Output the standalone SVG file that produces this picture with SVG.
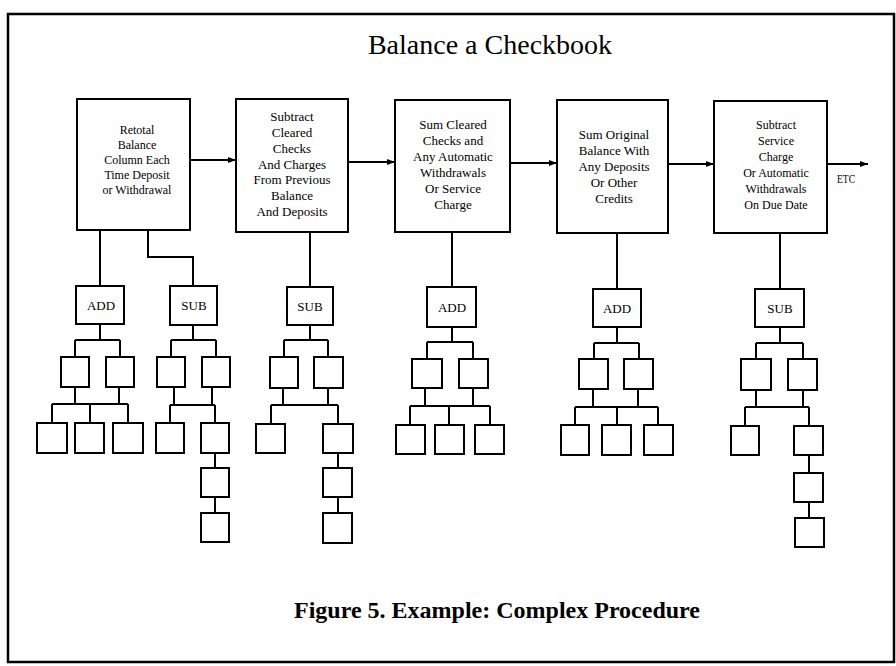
<svg xmlns="http://www.w3.org/2000/svg" width="896" height="666" viewBox="0 0 896 666">
<defs>
<marker id="ah" markerUnits="userSpaceOnUse" markerWidth="9" markerHeight="7" refX="8" refY="3" orient="auto">
<path d="M0,0 L8,3 L0,6 Z" fill="#000"/>
</marker>
</defs>
<style>
.frame{fill:none;stroke:#000;stroke-width:2.5}
.box{fill:#fff;stroke:#000;stroke-width:2}
.sb{fill:#fff;stroke:#000;stroke-width:2}
.conn path{fill:none;stroke:#000;stroke-width:2}
.arr{fill:none;stroke:#000;stroke-width:2;marker-end:url(#ah)}
text{font-family:"Liberation Serif","Times New Roman",serif;fill:#000;text-anchor:middle}
.t1{font-size:12px}
.t2{font-size:13px}
.lbl{font-size:13px}
.title{font-size:28px}
.cap{font-size:24px;font-weight:bold}
</style>
<rect width="896" height="666" fill="#fff"/>
<rect class="frame" x="8" y="14" width="886" height="648"/>
<text class="title" x="490" y="54">Balance a Checkbook</text>

<g class="conn" id="connectors">
<path class="arr" d="M190 160 H236"/>
<path class="arr" d="M348 162 H395"/>
<path class="arr" d="M510 163 H557"/>
<path class="arr" d="M668 164 H714"/>
<path class="arr" d="M827 164 H868"/>
<!-- tree 1 ADD -->
<path d="M100 230 V286"/>
<path d="M100 324 V340 M75 340 H120 M75 340 V357 M120 340 V357"/>
<path d="M75 387 V404 M119 387 V404 M52 404 H128 M52 404 V423 M90 404 V423 M128 404 V423"/>
<!-- tree 2 SUB -->
<path d="M148 230 V257 H193 V286"/>
<path d="M193 325 V340 M171 340 H216 M171 340 V357 M216 340 V357"/>
<path d="M174 387 V405 M212 387 V405 M170 405 H215 M170 405 V423 M215 405 V423"/>
<path d="M215 453 V468 M215 497 V513"/>
<!-- tree 3 SUB -->
<path d="M310 232 V287"/>
<path d="M310 325 V340 M284 340 H328 M284 340 V357 M328 340 V357"/>
<path d="M283 388 V405 M328 388 V405 M271 405 H338 M271 405 V424 M338 405 V424"/>
<path d="M338 453 V468 M338 497 V513"/>
<!-- tree 4 ADD -->
<path d="M452 232 V287"/>
<path d="M452 327 V342 M427 342 H473 M427 342 V359 M473 342 V359"/>
<path d="M425 388 V406 M473 388 V406 M410 406 H490 M410 406 V425 M449 406 V425 M490 406 V425"/>
<!-- tree 5 ADD -->
<path d="M617 233 V289"/>
<path d="M617 327 V343 M594 343 H639 M594 343 V359 M639 343 V359"/>
<path d="M593 389 V407 M638 389 V407 M575 407 H658 M575 407 V425 M617 407 V425 M658 407 V425"/>
<!-- tree 6 SUB -->
<path d="M780 233 V289"/>
<path d="M780 327 V343 M756 343 H803 M756 343 V359 M803 343 V359"/>
<path d="M756 390 V407 M803 390 V407 M745 407 H809 M745 407 V426 M809 407 V426"/>
<path d="M809 455 V473 M809 502 V518"/>
</g>

<g id="box1"><rect class="box" x="77" y="99" width="113" height="131"/>
<text class="t1" x="137" y="134">Retotal</text>
<text class="t1" x="137" y="149">Balance</text>
<text class="t1" x="137" y="164">Column Each</text>
<text class="t1" x="137" y="179">Time Deposit</text>
<text class="t1" x="137" y="194">or Withdrawal</text></g>

<g id="box2"><rect class="box" x="236" y="99" width="112" height="133"/>
<text class="t2" x="292" y="121">Subtract</text>
<text class="t2" x="292" y="137">Cleared</text>
<text class="t2" x="292" y="153">Checks</text>
<text class="t2" x="292" y="168.5">And Charges</text>
<text class="t2" x="292" y="184">From Previous</text>
<text class="t2" x="292" y="200">Balance</text>
<text class="t2" x="292" y="216">And Deposits</text></g>

<g id="box3"><rect class="box" x="395" y="100" width="115" height="132"/>
<text class="t2" x="453" y="129">Sum Cleared</text>
<text class="t2" x="453" y="145">Checks and</text>
<text class="t2" x="453" y="161">Any Automatic</text>
<text class="t2" x="453" y="177">Withdrawals</text>
<text class="t2" x="453" y="193">Or Service</text>
<text class="t2" x="453" y="209">Charge</text></g>

<g id="box4"><rect class="box" x="557" y="100" width="111" height="133"/>
<text class="t2" x="614" y="139">Sum Original</text>
<text class="t2" x="614" y="155">Balance With</text>
<text class="t2" x="614" y="171">Any Deposits</text>
<text class="t2" x="614" y="187">Or Other</text>
<text class="t2" x="614" y="203">Credits</text></g>

<g id="box5"><rect class="box" x="714" y="101" width="113" height="132"/>
<text class="t1" x="776" y="129">Subtract</text>
<text class="t1" x="776" y="145">Service</text>
<text class="t1" x="776" y="161">Charge</text>
<text class="t1" x="776" y="177">Or Automatic</text>
<text class="t1" x="776" y="193">Withdrawals</text>
<text class="t1" x="776" y="209">On Due Date</text></g>

<text class="t1" x="846" y="183" textLength="18" lengthAdjust="spacingAndGlyphs">ETC</text>

<!-- tree 1 -->
<g id="add1"><rect class="sb" x="76" y="286" width="48" height="38"/><text class="lbl" x="101" y="310">ADD</text></g>
<g id="n1a"><rect class="sb" x="61" y="357" width="28" height="30"/></g>
<g id="n1b"><rect class="sb" x="106" y="357" width="28" height="30"/></g>
<g id="n1c"><rect class="sb" x="37" y="423" width="30" height="30"/></g>
<g id="n1d"><rect class="sb" x="75" y="423" width="29" height="30"/></g>
<g id="n1e"><rect class="sb" x="113" y="423" width="30" height="30"/></g>

<!-- tree 2 -->
<g id="sub1"><rect class="sb" x="170" y="286" width="47" height="39"/><text class="lbl" x="194" y="310">SUB</text></g>
<g id="n2a"><rect class="sb" x="157" y="357" width="28" height="30"/></g>
<g id="n2b"><rect class="sb" x="202" y="357" width="28" height="30"/></g>
<g id="n2c"><rect class="sb" x="156" y="423" width="28" height="30"/></g>
<g id="n2d"><rect class="sb" x="201" y="423" width="28" height="30"/></g>
<g id="n2e"><rect class="sb" x="201" y="468" width="28" height="29"/></g>
<g id="n2f"><rect class="sb" x="201" y="513" width="28" height="29"/></g>

<!-- tree 3 -->
<g id="sub2"><rect class="sb" x="287" y="287" width="46" height="38"/><text class="lbl" x="310" y="311">SUB</text></g>
<g id="n3a"><rect class="sb" x="270" y="357" width="28" height="31"/></g>
<g id="n3b"><rect class="sb" x="314" y="357" width="29" height="31"/></g>
<g id="n3c"><rect class="sb" x="256" y="424" width="29" height="29"/></g>
<g id="n3d"><rect class="sb" x="323" y="424" width="30" height="29"/></g>
<g id="n3e"><rect class="sb" x="323" y="468" width="29" height="29"/></g>
<g id="n3f"><rect class="sb" x="323" y="513" width="29" height="30"/></g>

<!-- tree 4 -->
<g id="add3"><rect class="sb" x="427" y="287" width="49" height="40"/><text class="lbl" x="452" y="312">ADD</text></g>
<g id="n4a"><rect class="sb" x="412" y="359" width="30" height="29"/></g>
<g id="n4b"><rect class="sb" x="459" y="359" width="29" height="29"/></g>
<g id="n4c"><rect class="sb" x="396" y="425" width="29" height="29"/></g>
<g id="n4d"><rect class="sb" x="435" y="425" width="29" height="29"/></g>
<g id="n4e"><rect class="sb" x="475" y="425" width="29" height="29"/></g>

<!-- tree 5 -->
<g id="add4"><rect class="sb" x="593" y="289" width="48" height="38"/><text class="lbl" x="617" y="313">ADD</text></g>
<g id="n5a"><rect class="sb" x="579" y="359" width="29" height="30"/></g>
<g id="n5b"><rect class="sb" x="624" y="359" width="29" height="30"/></g>
<g id="n5c"><rect class="sb" x="561" y="425" width="28" height="30"/></g>
<g id="n5d"><rect class="sb" x="602" y="425" width="29" height="30"/></g>
<g id="n5e"><rect class="sb" x="644" y="425" width="29" height="30"/></g>

<!-- tree 6 -->
<g id="sub5"><rect class="sb" x="755" y="289" width="49" height="38"/><text class="lbl" x="780" y="313">SUB</text></g>
<g id="n6a"><rect class="sb" x="741" y="359" width="30" height="31"/></g>
<g id="n6b"><rect class="sb" x="788" y="359" width="29" height="31"/></g>
<g id="n6c"><rect class="sb" x="731" y="426" width="28" height="29"/></g>
<g id="n6d"><rect class="sb" x="794" y="426" width="29" height="29"/></g>
<g id="n6e"><rect class="sb" x="794" y="473" width="29" height="29"/></g>
<g id="n6f"><rect class="sb" x="795" y="518" width="29" height="29"/></g>

<text class="cap" x="497" y="618">Figure 5. Example: Complex Procedure</text>
</svg>
